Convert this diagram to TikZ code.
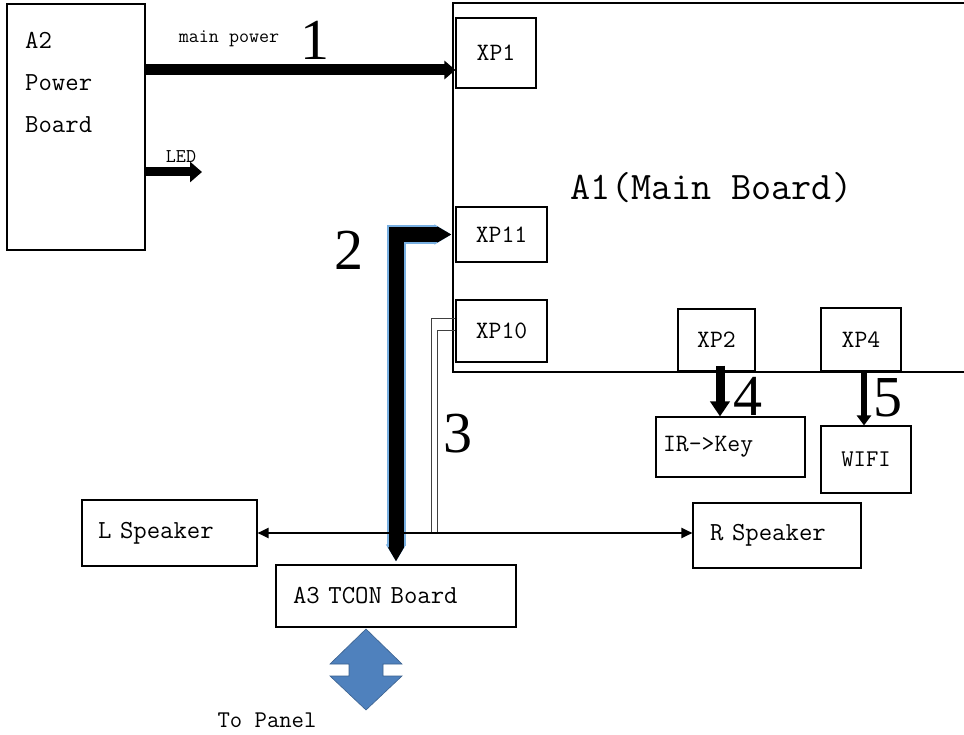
\documentclass[tikz,border=0pt]{standalone}
\usepackage{fontspec}
\usepackage{tikz}
\usetikzlibrary{arrows.meta,positioning}

\newfontfamily\numfont{Liberation Serif}
\definecolor{panelblue}{RGB}{79,129,189}
\definecolor{glowblue}{RGB}{120,175,225}

\begin{document}
\begin{tikzpicture}[x=1pt, y=-1pt,
  box/.style={draw, line width=1.1pt, inner sep=0pt, align=center,
    font=\ttfamily\fontsize{25}{25}\selectfont},
  lbox/.style={box, align=left},
  txt/.style={inner sep=0pt, font=\ttfamily\fontsize{#1}{#1}\selectfont},
  num/.style={inner sep=0pt, font=\numfont\fontsize{58}{58}\selectfont},
  power/.style={line width=11pt, -{Triangle[length=11pt,width=18pt]}},
  sig/.style={line width=9pt, -{Triangle[length=15pt,width=19pt]}},
  wire/.style={line width=1pt, draw=black!75},
  spk/.style={line width=2pt, {Triangle[length=11pt,width=10pt]}-{Triangle[length=11pt,width=10pt]}}
]
\fill[white] (0,0) rectangle (964,735);
\useasboundingbox (0,0) rectangle (964,735);

% boards
\node[box, minimum width=138pt, minimum height=246pt] (pwr) at (76,127) {};
\node[inner sep=0pt, anchor=north west, align=left,
  font=\ttfamily\fontsize{26}{42}\selectfont] (pwrtxt) at (25,32) {A2\\Power\\Board};
\node[box, minimum width=517pt, minimum height=369pt,
  font=\ttfamily\fontsize{39}{39}\selectfont] (a1) at (711.5,187.5) {A1(Main Board)};

% connectors on A1
\node[box, minimum width=80pt, minimum height=70pt] (xp1) at (496,53) {XP1};
\node[box, minimum width=91pt, minimum height=55pt] (xp11) at (501.5,234.5) {XP11};
\node[box, minimum width=91pt, minimum height=62pt] (xp10) at (501.5,331) {XP10};
\node[box, minimum width=77pt, minimum height=62pt] (xp2) at (716.5,340) {XP2};
\node[box, minimum width=80pt, minimum height=63pt] (xp4) at (861,339.5) {XP4};

% peripherals
\node[lbox, text width=135pt, inner xsep=7pt, minimum height=60pt] (ir) at (730.5,447) {IR—>Key};
\node[box, minimum width=90pt, minimum height=67pt, font=\ttfamily\fontsize{24}{24}\selectfont] (wifi) at (866,459.5) {WIFI};
\node[lbox, text width=143pt, inner xsep=16pt, minimum height=66pt,
  font=\ttfamily\fontsize{26}{26}\selectfont] (lspk) at (169.5,533) {L Speaker};
\node[lbox, text width=134pt, inner xsep=17pt, minimum height=65pt,
  font=\ttfamily\fontsize{26}{26}\selectfont] (rspk) at (777,535.5) {R Speaker};
\node[lbox, text width=206pt, inner xsep=17pt, minimum height=62pt,
  font=\ttfamily\fontsize{26}{26}\selectfont] (tcon) at (396,596) {A3 TCON Board};

\coordinate (ledend) at (202,172);
\coordinate (j3a) at (431,533);
\coordinate (j3b) at (437,533);

% 1 main power, LED
\draw[power] (pwr.east |- 0,70) -- ([yshift=-17pt]xp1.west);
\node[txt=19.5] (mainlbl) at (229,39) {main power};
\node[num] (n1) at (315,40) {1};
\draw[line width=9pt, -{Triangle[length=12pt,width=20pt]}] (pwr.east |- ledend) -- (ledend);
\node[txt=19.5] (ledlbl) at (181,157) {LED};

% 2 LVDS bus
\draw[line width=19pt, glowblue, line join=miter,
  {Triangle[length=17pt,width=19pt]}-{Triangle[length=17pt,width=19pt]}]
  ([yshift=3pt]tcon.north) |- ([xshift=-4pt]xp11.west);
\draw[line width=15pt, black, line join=miter,
  {Triangle[length=14pt,width=15pt]}-{Triangle[length=14pt,width=15pt]}]
  ([yshift=3pt]tcon.north) |- ([xshift=-4pt]xp11.west);
\node[num] (n2) at (349,250) {2};

% 3 audio
\draw[wire] ([yshift=12pt]xp10.west) -| (j3a);
\draw[wire] (xp10.west) -| (j3b);
\node[num] (n3) at (458,434) {3};
\draw[spk] (lspk.east) -- (lspk.east -| rspk.west);

% 4, 5
\draw[sig] ([xshift=3.5pt,yshift=6pt]xp2.south) -- ([xshift=3.5pt]xp2.south |- ir.north);
\node[num] (n4) at (748,396) {4};
\draw[line width=6pt, -{Triangle[length=10pt,width=14pt]}] ([xshift=3pt]xp4.south) -- ([xshift=3pt]xp4.south |- wifi.north);
\node[num] (n5) at (888,398) {5};

% to panel
\filldraw[fill=panelblue, draw=panelblue!75!black, line width=0.6pt]
  (366,629) -- (402,664) -- (383,664) -- (383,676) -- (402,676) -- (366,710)
  -- (330,676) -- (349,676) -- (349,664) -- (330,664) -- cycle;
\node[txt=24] (topanel) at (267,720) {To Panel};
\end{tikzpicture}
\end{document}
